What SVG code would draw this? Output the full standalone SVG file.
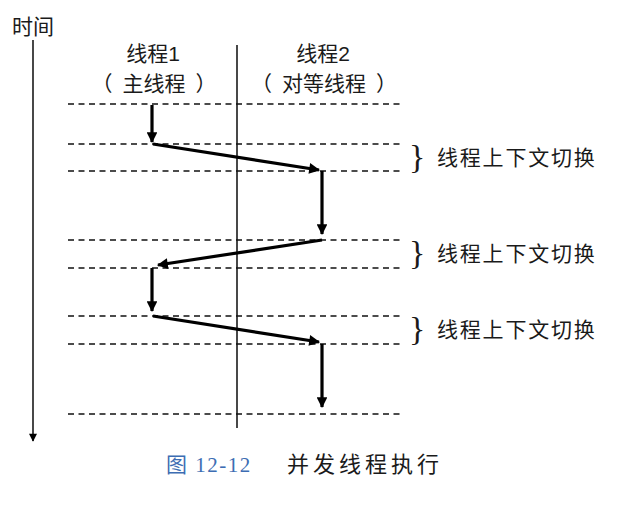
<svg xmlns="http://www.w3.org/2000/svg" width="643" height="508" viewBox="0 0 643 508">
<style>
.t{font-family:"Liberation Sans","Noto Sans CJK SC",sans-serif;fill:#1a1a1a}
.dash{stroke:#111;stroke-width:1.7;stroke-dasharray:6 4.5;fill:none}
.arr{stroke:#000;stroke-width:3.2;fill:none;marker-end:url(#ah)}
.brace{font-family:"Liberation Serif","Noto Sans CJK SC",serif;fill:#1a1a1a}
.lbl{font-size:21px;letter-spacing:1.8px}
.sub{font-size:21px}
</style>
<defs>
<marker id="ah" viewBox="0 0 10 10" refX="9" refY="5" markerWidth="5.4" markerHeight="3.4" orient="auto" markerUnits="strokeWidth">
<path d="M0,0 L10,5 L0,10 z" fill="#000"/>
</marker>
<marker id="ah2" viewBox="0 0 10 10" refX="9" refY="5" markerWidth="12" markerHeight="8" orient="auto" markerUnits="userSpaceOnUse">
<path d="M0,0 L10,5 L0,10 z" fill="#000"/>
</marker>
</defs>
<rect width="643" height="508" fill="#fff"/>
<g id="time-axis">
<text class="t" x="12" y="34" font-size="21">时间</text>
<line x1="33" y1="40" x2="33" y2="441" stroke="#1a1a1a" stroke-width="1.6" marker-end="url(#ah2)"/>
</g>
<g id="thread1-header">
<text class="t" x="153" y="61" font-size="21" text-anchor="middle">线程1</text>
<text class="t sub" x="154" y="91" text-anchor="middle">（<tspan dx="10">主线程</tspan><tspan dx="10">）</tspan></text>
</g>
<g id="thread2-header">
<text class="t" x="323" y="61" font-size="21" text-anchor="middle">线程2</text>
<text class="t sub" x="324" y="91" text-anchor="middle">（<tspan dx="10">对等线程</tspan><tspan dx="10">）</tspan></text>
</g>
<g id="divider">
<line x1="237" y1="45" x2="237" y2="428" stroke="#1a1a1a" stroke-width="1.6"/>
</g>
<g id="timelines">
<line class="dash" x1="68" y1="104" x2="400" y2="104"/>
<line class="dash" x1="68" y1="144" x2="400" y2="144"/>
<line class="dash" x1="68" y1="171" x2="400" y2="171"/>
<line class="dash" x1="68" y1="240" x2="400" y2="240"/>
<line class="dash" x1="68" y1="268" x2="400" y2="268"/>
<line class="dash" x1="68" y1="316" x2="400" y2="316"/>
<line class="dash" x1="68" y1="344" x2="400" y2="344"/>
<line class="dash" x1="68" y1="414" x2="400" y2="414"/>
</g>
<g id="connectors">
<line class="arr" x1="152" y1="105" x2="152" y2="142"/>
<line class="arr" x1="153" y1="144" x2="319" y2="170"/>
<line class="arr" x1="322" y1="171" x2="322" y2="234"/>
<line class="arr" x1="322" y1="240" x2="158" y2="265"/>
<line class="arr" x1="152" y1="268" x2="152" y2="311"/>
<line class="arr" x1="153" y1="316" x2="319" y2="342"/>
<line class="arr" x1="322" y1="344" x2="322" y2="407"/>
</g>
<g id="switch1">
<text class="brace" x="409" y="168" font-size="34">}</text>
<text class="t lbl" x="437" y="165">线程上下文切换</text>
</g>
<g id="switch2">
<text class="brace" x="409" y="264" font-size="34">}</text>
<text class="t lbl" x="437" y="261">线程上下文切换</text>
</g>
<g id="switch3">
<text class="brace" x="409" y="340" font-size="34">}</text>
<text class="t lbl" x="437" y="337">线程上下文切换</text>
</g>
<g id="caption">
<text x="166" y="472" font-size="21" letter-spacing="1.5" font-family="Liberation Serif,Noto Sans CJK SC,serif" fill="#3d6db3">图 12-12</text>
<text class="t" x="287" y="472" font-size="22" letter-spacing="4">并发线程执行</text>
</g>
</svg>
